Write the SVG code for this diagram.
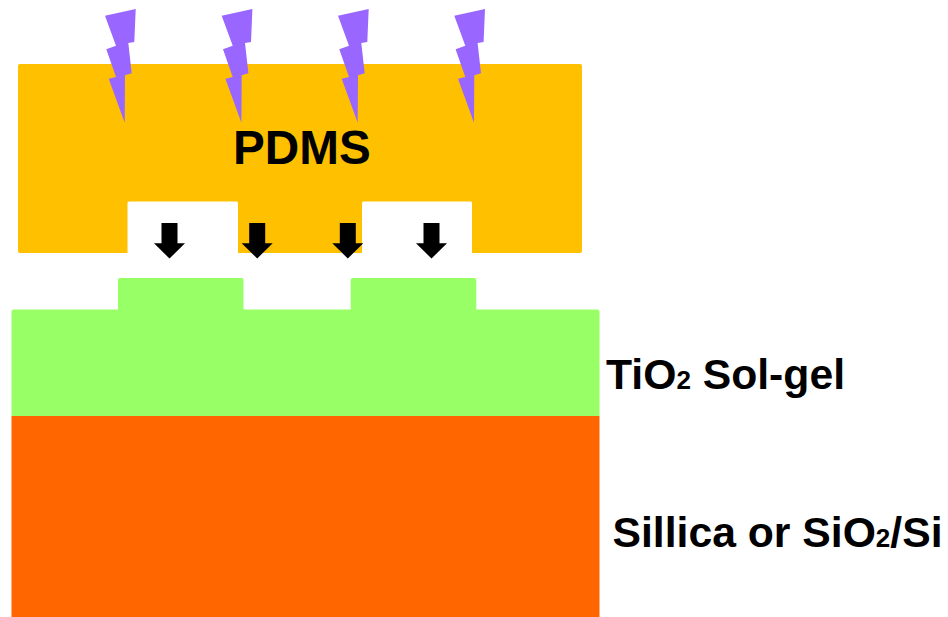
<svg xmlns="http://www.w3.org/2000/svg" width="948" height="617" viewBox="0 0 948 617">
<style>
text{font-family:"Liberation Sans",Arial,sans-serif;font-weight:700;fill:#000}
.l{font-size:42.700px}.s{font-size:26px}
.bolt{fill:#9966ff}.arrow{fill:#000}
</style>
<defs>
<polygon id="b" class="bolt" points="105,15.7 135.7,9 134.3,42 128.3,43 131.7,73.3 125,75.3 124.7,122.7 108.7,78.7 116,77 106.3,49.3 116,45.7"/>
<polygon id="a" class="arrow" points="-8,223 8,223 8,243.3 15.5,243.3 0,258.5 -15.5,243.3 -8,243.3"/>
</defs>
<rect width="948" height="617" fill="#fff"/>
<g id="pdms">
<path fill="#ffc000" d="M20,64H580a2,2 0 0 1 2,2V251a2,2 0 0 1 -2,2H472V203a1.500,1.500 0 0 0 -1.500,-1.500H363.500a1.500,1.500 0 0 0 -1.500,1.500V253H238V203a1.500,1.500 0 0 0 -1.500,-1.500H129a1.500,1.500 0 0 0 -1.500,1.500V253H20a2,2 0 0 1 -2,-2V66a2,2 0 0 1 2,-2Z"/>
<text x="233" y="164" style="font-size:47.700px">PDMS</text>
</g>
<g id="solgel">
<path fill="#99ff66" d="M120,278H241.500a2,2 0 0 1 2,2V309.500H350.700V280a2,2 0 0 1 2,-2H474.300a2,2 0 0 1 2,2V309.500H597.500a2,2 0 0 1 2,2V416H11.500V311.500a2,2 0 0 1 2,-2H118V280a2,2 0 0 1 2,-2Z"/>
<text x="606" y="389" class="l">TiO<tspan class="s">2</tspan> Sol-gel</text>
</g>
<g id="substrate">
<rect x="11.500" y="416" width="588" height="201" fill="#ff6600"/>
<text x="612.500" y="547" class="l">Sillica or SiO<tspan class="s">2</tspan>/Si</text>
</g>
<g id="uv-bolts">
<use href="#b"/>
<use href="#b" x="116.700"/>
<use href="#b" x="233"/>
<use href="#b" x="349.300"/>
</g>
<g id="connectors">
<use href="#a" x="169.500"/>
<use href="#a" x="257.200"/>
<use href="#a" x="347.800"/>
<use href="#a" x="431.500"/>
</g>
</svg>
